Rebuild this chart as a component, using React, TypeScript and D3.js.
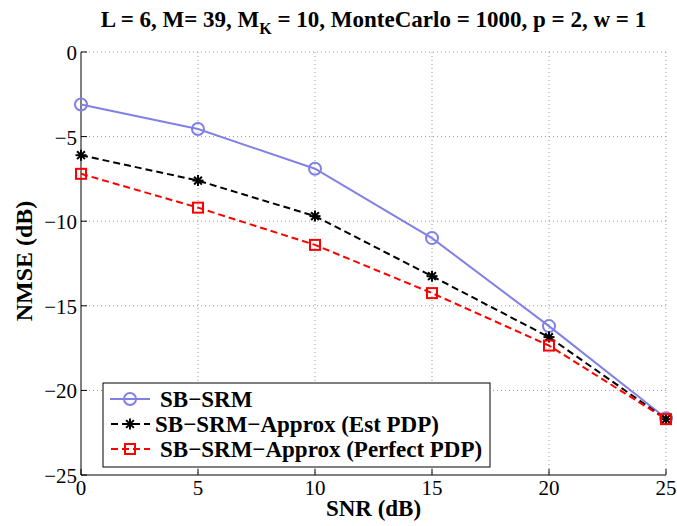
import React from "react";
import * as d3 from "d3";

const snr = [0, 5, 10, 15, 20, 25];
const sbSrm = [-3.1, -4.55, -6.9, -11.0, -16.2, -21.65];
const approxEst = [-6.1, -7.6, -9.7, -13.25, -16.85, -21.7];
const approxPerfect = [-7.2, -9.2, -11.4, -14.25, -17.35, -21.7];
const xTicks = [0, 5, 10, 15, 20, 25];
const yTicks = [0, -5, -10, -15, -20, -25];
const legendLabels = ["SB\u2212SRM", "SB\u2212SRM\u2212Approx (Est PDP)", "SB\u2212SRM\u2212Approx (Perfect PDP)"];

const W = 677, H = 526;
const L = 81, R = 666, T = 52, B = 475;

export default function App() {
  const x = d3.scaleLinear().domain([0, 25]).range([L, R]);
  const y = d3.scaleLinear().domain([-25, 0]).range([B, T]);
  const line = d3.line<number>().x((_, i) => x(snr[i])).y((d) => y(d));
  const font = "'Liberation Serif', 'Times New Roman', serif";
  const blue = "#8080E6";

  const star = (cx: number, cy: number, k: string | number) => {
    const r = 5.5;
    const segs = [0, 45, 90, 135].map((a) => {
      const rad = (a * Math.PI) / 180;
      return (
        <line key={a} x1={cx - r * Math.cos(rad)} y1={cy - r * Math.sin(rad)} x2={cx + r * Math.cos(rad)} y2={cy + r * Math.sin(rad)} stroke="black" strokeWidth={2} />
      );
    });
    return <g key={k}>{segs}</g>;
  };
  const square = (cx: number, cy: number, k: string | number) => (
    <rect key={k} x={cx - 5} y={cy - 5} width={10} height={10} fill="none" stroke="red" strokeWidth={2} />
  );
  const circle = (cx: number, cy: number, k: string | number) => (
    <circle key={k} cx={cx} cy={cy} r={6} fill="none" stroke={blue} strokeWidth={2} />
  );

  const legY = [399, 424, 449];

  return (
    <svg width={W} height={H} style={{ position: "absolute", left: 0, top: 0 }} fontFamily={font}>
      <rect width={W} height={H} fill="white" />
      <text x={(L + R) / 2} y={27} textAnchor="middle" fontWeight="bold" fontSize={23}>
        L = 6, M= 39, M<tspan dy={7} fontSize={16}>K</tspan><tspan dy={-7}> = 10, MonteCarlo = 1000, p = 2, w = 1</tspan>
      </text>
      {/* grid */}
      {xTicks.slice(1, -1).map((t) => (
        <line key={"gx" + t} x1={x(t)} x2={x(t)} y1={T} y2={B} stroke="#999" strokeWidth={1} strokeDasharray="1,3" />
      ))}
      {yTicks.slice(1, -1).map((t) => (
        <line key={"gy" + t} x1={L} x2={R} y1={y(t)} y2={y(t)} stroke="#999" strokeWidth={1} strokeDasharray="1,3" />
      ))}
      <line x1={L} x2={R} y1={T} y2={T} stroke="#999" strokeDasharray="1,3" />
      <line x1={R} x2={R} y1={T} y2={B} stroke="#999" strokeDasharray="1,3" />
      {/* axes */}
      <line x1={L} x2={L} y1={T} y2={B} stroke="black" />
      <line x1={L} x2={R} y1={B} y2={B} stroke="black" />
      {xTicks.map((t) => (
        <g key={"xt" + t}>
          <line x1={x(t)} x2={x(t)} y1={B} y2={B - 6} stroke="black" />
          <text x={x(t)} y={B + 20} textAnchor="middle" fontSize={21}>{t}</text>
        </g>
      ))}
      {yTicks.map((t) => (
        <g key={"yt" + t}>
          <line x1={L} x2={L + 6} y1={y(t)} y2={y(t)} stroke="black" />
          <text x={L - 4} y={y(t) + 8} textAnchor="end" fontSize={21}>{t < 0 ? "\u2212" + Math.abs(t) : t}</text>
        </g>
      ))}
      <text x={(L + R) / 2} y={516} textAnchor="middle" fontWeight="bold" fontSize={23}>SNR (dB)</text>
      <text transform={`translate(32,261) rotate(-90)`} textAnchor="middle" fontWeight="bold" fontSize={24}>NMSE (dB)</text>
      {/* series */}
      <path d={line(sbSrm) || ""} fill="none" stroke={blue} strokeWidth={2} />
      <path d={line(approxEst) || ""} fill="none" stroke="black" strokeWidth={2} strokeDasharray="7,4" />
      <path d={line(approxPerfect) || ""} fill="none" stroke="red" strokeWidth={2} strokeDasharray="7,4" />
      {sbSrm.map((v, i) => circle(x(snr[i]), y(v), "c" + i))}
      {approxEst.map((v, i) => star(x(snr[i]), y(v), "s" + i))}
      {approxPerfect.map((v, i) => square(x(snr[i]), y(v), "q" + i))}
      {/* legend */}
      <rect x={103} y={383} width={387} height={84} fill="white" stroke="black" strokeWidth={1} />
      <line x1={110} x2={150} y1={legY[0]} y2={legY[0]} stroke={blue} strokeWidth={2} />
      {circle(130, legY[0], "lc")}
      <line x1={110} x2={150} y1={legY[1]} y2={legY[1]} stroke="black" strokeWidth={2} strokeDasharray="7,4" strokeDashoffset={-1} />
      {star(130, legY[1], "ls")}
      <line x1={110} x2={150} y1={legY[2]} y2={legY[2]} stroke="red" strokeWidth={2} strokeDasharray="7,4" strokeDashoffset={-1} />
      {square(130, legY[2], "lq")}
      <text x={160} y={legY[0] + 8} fontWeight="bold" fontSize={23}>{legendLabels[0]}</text>
      <text x={155} y={legY[1] + 8} fontWeight="bold" fontSize={23}>{legendLabels[1]}</text>
      <text x={160} y={legY[2] + 8} fontWeight="bold" fontSize={23}>{legendLabels[2]}</text>
    </svg>
  );
}
